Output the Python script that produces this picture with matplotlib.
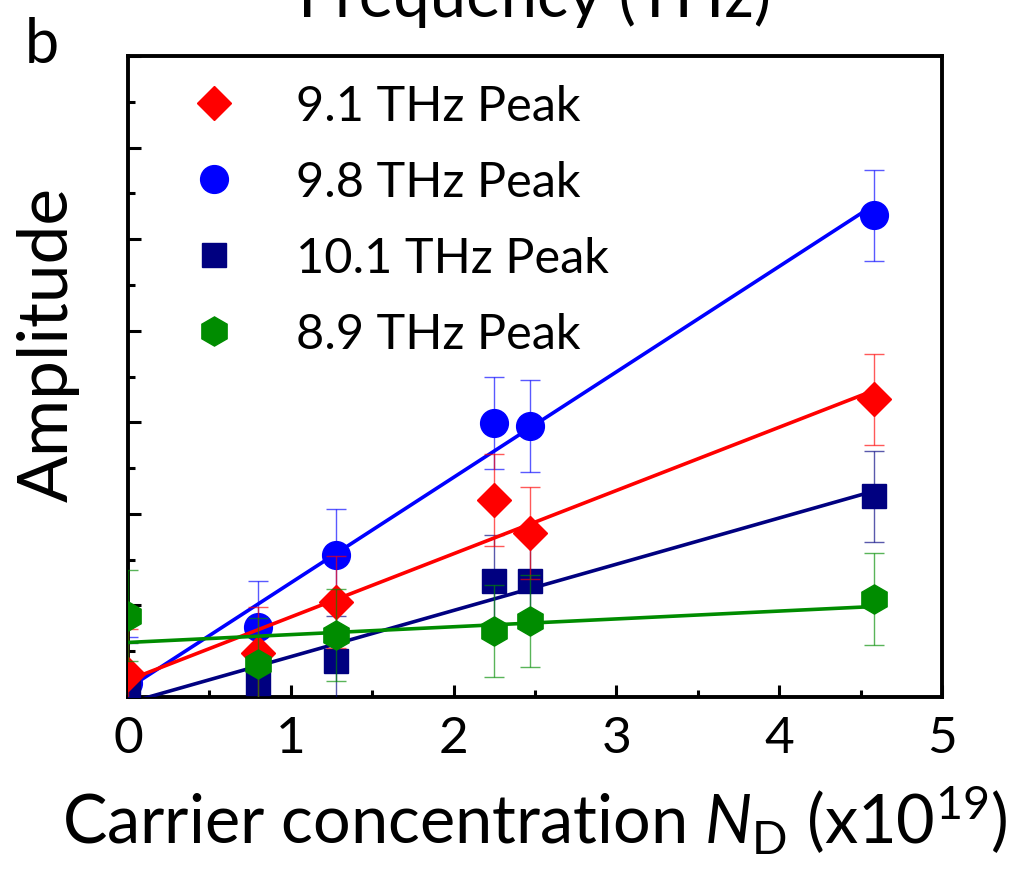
import matplotlib
matplotlib.use('Agg')
import matplotlib.pyplot as plt
import numpy as np
from matplotlib.ticker import MultipleLocator, NullFormatter

plt.rcParams['font.family'] = ['Lato', 'DejaVu Sans']
plt.rcParams['mathtext.fontset'] = 'custom'
plt.rcParams['mathtext.rm'] = 'Lato'
plt.rcParams['mathtext.it'] = 'Lato:italic'

# carrier concentration (x1e19) of the samples
conc = [0.0, 0.80, 1.28, 2.25, 2.47, 4.58]

# peak amplitudes (arbitrary units)
amp_91 = [0.25, 0.48, 1.04, 2.15, 1.79, 3.25]
amp_98 = [0.15, 0.77, 1.55, 2.99, 2.96, 5.26]
amp_101 = [0.09, 0.15, 0.39, 1.27, 1.27, 2.19]
amp_89 = [0.89, 0.36, 0.68, 0.72, 0.83, 1.07]

err_91 = [0.49, 0.5, 0.5, 0.5, 0.5, 0.5]
err_98 = [0.5, 0.5, 0.5, 0.5, 0.5, 0.5]
err_101 = [0.5, 0.5, 0.5, 0.5, 0.5, 0.5]
err_89 = [0.5, 0.5, 0.5, 0.5, 0.5, 0.5]

fig = plt.figure(figsize=(10.21, 8.78), dpi=100)
ax = fig.add_axes([0.1254, 0.205, 0.7972, 0.730])

series = [
    ('9.8 THz Peak', amp_98, err_98, '#0000FF', 'o', 20),
    ('10.1 THz Peak', amp_101, err_101, '#000080', 's', 17),
    ('9.1 THz Peak', amp_91, err_91, '#FF0000', 'D', 17),
    ('8.9 THz Peak', amp_89, err_89, '#008C00', 'h', 21),
]

handles = {}
x = np.array(conc)
for i, (name, y, e, col, mk, ms) in enumerate(series):
    # linear fit through the points
    k, b = np.polyfit(x, y, 1)
    ax.plot([x.min(), x.max()], [b, b + k * x.max()], color=col, lw=2.6,
            zorder=2 + i)
    ax.errorbar(x, y, yerr=e, fmt='none', ecolor=col, elinewidth=1,
                capsize=7, capthick=1, alpha=0.65, zorder=2 + i)
    h, = ax.plot(x, y, ls='none', marker=mk, ms=ms, color=col, mec=col,
                 zorder=3 + i)
    handles[name] = h

order = ['9.1 THz Peak', '9.8 THz Peak', '10.1 THz Peak', '8.9 THz Peak']
ax.legend([handles[n] for n in order], order, loc='upper left',
          bbox_to_anchor=(0.028, 0.995), frameon=False, fontsize=35,
          handletextpad=0.89, labelspacing=0.66, borderpad=0,
          handlelength=1.6)

ax.set_xlim(0, 5)
ax.set_ylim(0, 7)
ax.xaxis.set_major_locator(MultipleLocator(1))
ax.xaxis.set_minor_locator(MultipleLocator(0.5))
ax.yaxis.set_major_locator(MultipleLocator(1))
ax.yaxis.set_minor_locator(MultipleLocator(0.5))
ax.yaxis.set_major_formatter(NullFormatter())
ax.tick_params(which='both', direction='in', width=2.2, top=False, right=False)
ax.tick_params(which='major', length=9, labelsize=37, pad=13)
ax.tick_params(which='minor', length=5)
for s in ax.spines.values():
    s.set_linewidth(2.8)

ax.set_xlabel(r'Carrier concentration $\mathit{N}_{\mathrm{D}}$ (x10$^{19}$)',
              fontsize=48, labelpad=14)
ax.set_ylabel('Amplitude', fontsize=50, labelpad=22, y=0.551)

# label of the panel above, cut off at the top edge
fig.text(0.524, 1 - 17 / 878, 'Frequency (THz)', fontsize=47,
         ha='center', va='baseline')
fig.text(0.024, 1 - 63 / 878, 'b', fontsize=44, ha='left', va='baseline')

fig.savefig('out.png', dpi=100)
